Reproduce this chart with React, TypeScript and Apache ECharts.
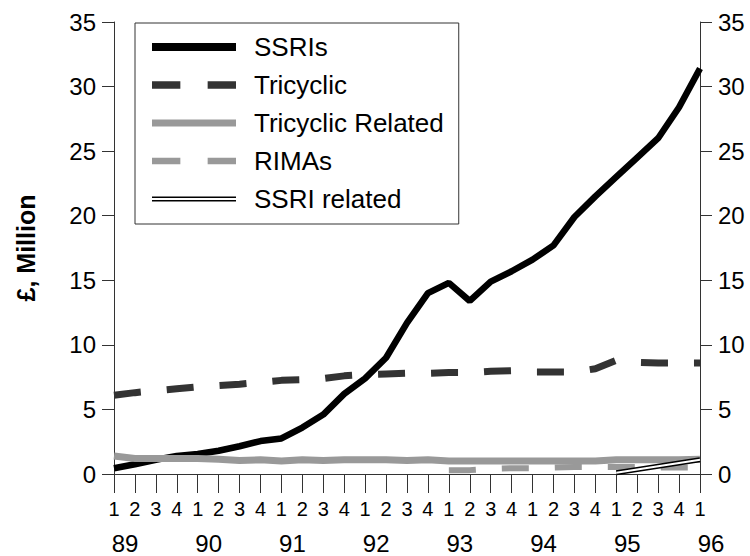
import React, { useEffect, useRef } from "react";
import * as echarts from "echarts";

const years = ["89", "90", "91", "92", "93", "94", "95", "96"];
const quarterLabels = ["1", "2", "3", "4"];

const ssris = [0.45, 0.75, 1.1, 1.4, 1.55, 1.8, 2.15, 2.55, 2.75, 3.6, 4.6, 6.2, 7.4, 9.0, 11.7, 14.0, 14.8, 13.4, 14.9, 15.7, 16.6, 17.7, 19.9, 21.5, 23.0, 24.5, 26.0, 28.4, 31.4];
const tricyclic = [6.1, 6.3, 6.45, 6.6, 6.75, 6.85, 6.95, 7.1, 7.25, 7.3, 7.4, 7.6, 7.7, 7.75, 7.8, 7.8, 7.85, 7.85, 7.95, 8.0, 7.9, 7.9, 7.9, 8.15, 8.8, 8.65, 8.6, 8.6, 8.6];
const tricyclicRelated = [1.4, 1.2, 1.2, 1.2, 1.2, 1.15, 1.05, 1.1, 1.0, 1.1, 1.05, 1.1, 1.1, 1.1, 1.05, 1.1, 1.0, 1.0, 1.0, 1.0, 1.0, 1.0, 1.0, 1.0, 1.1, 1.1, 1.1, 1.1, 1.15];
const rimas: (number | string)[] = ["-", "-", "-", "-", "-", "-", "-", "-", "-", "-", "-", "-", "-", "-", "-", "-", 0.3, 0.3, 0.4, 0.45, 0.45, 0.5, 0.55, 0.55, 0.55, 0.55, 0.5, 0.5, 0.5];
const ssriRelated: (number | string)[] = ["-", "-", "-", "-", "-", "-", "-", "-", "-", "-", "-", "-", "-", "-", "-", "-", "-", "-", "-", "-", "-", "-", "-", "-", 0.1, 0.35, 0.6, 0.85, 1.1];

const yMin = 0;
const yMax = 35;
const yStep = 5;

const categories: string[] = [];
years.forEach((y, yi) => {
  quarterLabels.forEach((q, qi) => {
    if (yi < years.length - 1 || qi === 0) categories.push(`${y} Q${q}`);
  });
});

const FONT = "'Liberation Sans', Arial, sans-serif";
const AXIS_COLOR = "#333";
const TEXT_COLOR = "#000";

export default function App() {
  const ref = useRef<HTMLDivElement>(null);

  useEffect(() => {
    if (!ref.current) return;
    const chart = echarts.init(ref.current, null, { renderer: "svg" });

    const yAxisCommon = {
      type: "value",
      min: yMin,
      max: yMax,
      interval: yStep,
      splitLine: { show: false },
      axisLine: { show: true, lineStyle: { color: AXIS_COLOR, width: 1 } },
      axisTick: { show: true, length: 12, lineStyle: { color: AXIS_COLOR, width: 1 } },
      axisLabel: { fontSize: 24, color: TEXT_COLOR, fontFamily: FONT, margin: 18 },
    };

    const option: any = {
      animation: false,
      backgroundColor: "#fff",
      textStyle: { fontFamily: FONT },
      grid: { left: 114, right: 50, top: 22, bottom: 82, containLabel: false, outerBoundsMode: "none" },
      legend: {
        orient: "vertical",
        left: 135,
        top: 23,
        padding: [11, 15, 12, 17],
        itemGap: 12,
        itemWidth: 84,
        itemHeight: 8,
        symbolKeepAspect: true,
        borderColor: "#333",
        borderWidth: 1,
        backgroundColor: "#fff",
        selectedMode: false,
        textStyle: { fontSize: 26, color: TEXT_COLOR, fontFamily: FONT, padding: [0, 0, 0, 13] },
        itemStyle: { borderWidth: 0 },
        data: [
          { name: "SSRIs", icon: "path://M0,0H84V8H0Z", itemStyle: { color: "#000", borderWidth: 0 } },
          { name: "Tricyclic", icon: "path://M0,0H27V7H0Z M53,0H80V7H53Z", itemStyle: { color: "#333", borderWidth: 0 } },
          { name: "Tricyclic Related", icon: "path://M0,0H84V7H0Z", itemStyle: { color: "#999", borderWidth: 0 } },
          { name: "RIMAs", icon: "path://M0,0H27V6H0Z M53,0H80V6H53Z", itemStyle: { color: "#999", borderWidth: 0 } },
          { name: "SSRI related", icon: "path://M0,0H84V1.6H0Z M0,3.6H84V5.2H0Z", itemStyle: { color: "#000", borderWidth: 0 } },
        ],
      },
      xAxis: [
        {
          type: "category",
          data: categories,
          boundaryGap: false,
          position: "bottom",
          axisLine: { show: true, onZero: false, lineStyle: { color: AXIS_COLOR, width: 1 } },
          axisTick: { show: true, interval: 0, length: 19, lineStyle: { color: AXIS_COLOR, width: 1 } },
          axisLabel: {
            interval: 0,
            fontSize: 20,
            color: TEXT_COLOR,
            fontFamily: FONT,
            margin: 25,
            formatter: (v: string) => v.split(" Q")[1],
          },
          splitLine: { show: false },
        },
        {
          type: "category",
          data: categories,
          boundaryGap: false,
          position: "bottom",
          axisLine: { show: false },
          axisTick: { show: false },
          axisLabel: {
            interval: 0,
            fontSize: 24,
            color: TEXT_COLOR,
            fontFamily: FONT,
            margin: 57,
            padding: [0, 0, 0, 22],
            formatter: (v: string) => (v.endsWith("Q1") ? v.split(" ")[0] : ""),
          },
          splitLine: { show: false },
        },
      ],
      yAxis: [
        {
          ...yAxisCommon,
          position: "left",
          name: "£, Million",
          nameLocation: "middle",
          nameRotate: 90,
          nameGap: 76,
          nameTextStyle: { fontSize: 25, fontWeight: "bold", color: TEXT_COLOR, fontFamily: FONT },
        },
        { ...yAxisCommon, position: "right" },
      ],
      series: [
        {
          name: "SSRIs",
          type: "line",
          data: ssris,
          symbol: "none",
          clip: false,
          lineStyle: { color: "#000", width: 6.5, type: "solid" },
          itemStyle: { color: "#000" },
        },
        {
          name: "Tricyclic",
          type: "line",
          data: tricyclic,
          symbol: "none",
          clip: false,
          lineStyle: { color: "#333", width: 7, type: [27, 26] },
          itemStyle: { color: "#333" },
        },
        {
          name: "Tricyclic Related",
          type: "line",
          data: tricyclicRelated,
          symbol: "none",
          clip: false,
          lineStyle: { color: "#999", width: 7, type: "solid" },
          itemStyle: { color: "#999" },
        },
        {
          name: "RIMAs",
          type: "line",
          data: rimas,
          symbol: "none",
          clip: false,
          lineStyle: { color: "#999", width: 6, type: [27, 26] },
          itemStyle: { color: "#999" },
        },
        {
          name: "SSRI related",
          type: "line",
          data: ssriRelated,
          symbol: "none",
          clip: false,
          lineStyle: { color: "#000", width: 5, type: "solid" },
          itemStyle: { color: "#000" },
        },
        {
          name: "SSRI related (inner)",
          type: "line",
          data: ssriRelated,
          symbol: "none",
          clip: false,
          lineStyle: { color: "#fff", width: 2, type: "solid" },
          itemStyle: { color: "#fff" },
        },
      ],
    };

    chart.setOption(option);
    return () => chart.dispose();
  }, []);

  return (
    <div
      ref={ref}
      style={{ position: "fixed", left: 0, top: 0, width: 750, height: 556, background: "#fff" }}
    />
  );
}
